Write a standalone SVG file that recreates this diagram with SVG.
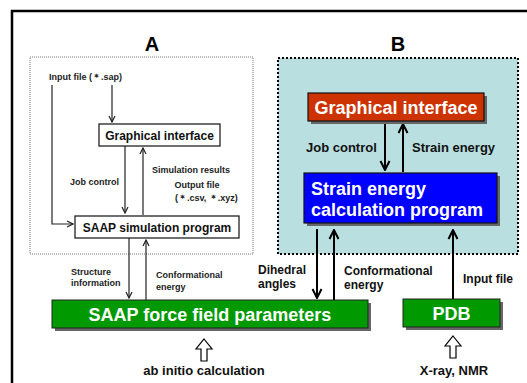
<svg xmlns="http://www.w3.org/2000/svg" width="527" height="383" viewBox="0 0 527 383">
<style>
  text { font-family: "Liberation Sans", Arial, sans-serif; font-weight: bold; }
  .title { font-size: 20px; fill: #000; text-anchor: middle; }
  .sm { font-size: 9px; fill: #222; }
  .lb { font-size: 12px; fill: #111; }
  .lb13 { font-size: 13px; fill: #111; }
  .boxA { fill: #fff; stroke: #222; stroke-width: 1.3; }
  .txA { font-size: 12px; fill: #111; text-anchor: middle; }
  .shadow { fill: #666; }
  .big { font-size: 18px; fill: #fff; }
  .arrA { stroke: #222; stroke-width: 1.2; fill: none; marker-end: url(#ha); }
  .arrB { stroke: #000; stroke-width: 2; fill: none; marker-end: url(#hb); }
  .hollow { fill: #fff; stroke: #000; stroke-width: 1.2; }
</style>
<defs>
  <marker id="ha" markerUnits="userSpaceOnUse" markerWidth="8" markerHeight="8" viewBox="0 0 8 8" refX="7" refY="4" orient="auto">
    <path d="M1,1 L7,4 L1,7" fill="none" stroke="#222" stroke-width="1.2"/>
  </marker>
  <marker id="hb" markerUnits="userSpaceOnUse" markerWidth="12" markerHeight="12" viewBox="0 0 12 12" refX="11" refY="6" orient="auto">
    <path d="M2,1.5 L11,6 L2,10.5" fill="none" stroke="#000" stroke-width="2"/>
  </marker>
</defs>

<rect x="12" y="11" width="530" height="400" fill="none" stroke="#000" stroke-width="2.5"/>

<text class="title" x="152" y="51">A</text>
<text class="title" x="398" y="51">B</text>

<g id="panelA">
  <rect x="30" y="57" width="223" height="197" fill="none" stroke="#777" stroke-width="1" stroke-dasharray="1,1"/>
</g>
<g id="panelB">
  <rect x="278" y="58" width="240" height="196" fill="#b9dfe0" stroke="#000" stroke-width="2" stroke-dasharray="2,2"/>
</g>

<g id="connectors">
  <line class="arrA" x1="112" y1="85" x2="112" y2="122"/>
  <polyline class="arrA" points="52,85 52,224 73,224"/>
  <line class="arrA" x1="125" y1="146" x2="125" y2="213"/>
  <line class="arrA" x1="143" y1="215" x2="143" y2="148"/>
  <line class="arrA" x1="129" y1="238" x2="129" y2="298"/>
  <line class="arrA" x1="146" y1="300" x2="146" y2="240"/>

  <line class="arrB" x1="385" y1="123" x2="385" y2="170"/>
  <line class="arrB" x1="403" y1="172" x2="403" y2="124"/>
  <line class="arrB" x1="317" y1="229" x2="317" y2="298"/>
  <line class="arrB" x1="334" y1="300" x2="334" y2="230"/>
  <line class="arrB" x1="453" y1="299" x2="453" y2="230"/>

  <polygon class="hollow" points="204,339 212,349 207,349 207,361 201,361 201,349 196,349"/>
  <polygon class="hollow" points="453,336 461,346 456,346 456,358 450,358 450,346 445,346"/>
</g>

<g id="labels">
  <text class="sm" x="49" y="80">Input file (＊.sap)</text>
  <text class="sm" x="119" y="185" text-anchor="end">Job control</text>
  <text class="sm" x="152" y="173">Simulation results</text>
  <text class="sm" x="197" y="188" text-anchor="middle">Output file</text>
  <text class="sm" x="175" y="201">(＊.csv, ＊.xyz)</text>
  <text class="sm" x="71" y="275">Structure</text>
  <text class="sm" x="71" y="286">information</text>
  <text class="sm" x="156" y="278">Conformational</text>
  <text class="sm" x="156" y="290">energy</text>

  <text class="lb13" x="306" y="152">Job control</text>
  <text class="lb13" x="412" y="152">Strain energy</text>
  <text class="lb" x="258" y="274">Dihedral</text>
  <text class="lb" x="258" y="288">angles</text>
  <text class="lb" x="344" y="275">Conformational</text>
  <text class="lb" x="344" y="289">energy</text>
  <text class="lb" x="463" y="283">Input file</text>

  <text class="lb13" x="204" y="375" text-anchor="middle">ab initio calculation</text>
  <text class="lb13" x="454" y="375" text-anchor="middle">X-ray, NMR</text>
</g>

<g id="guiA">
  <rect class="boxA" x="99" y="124" width="121" height="22"/>
  <text class="txA" x="159.5" y="139.5">Graphical interface</text>
</g>
<g id="saapSim">
  <rect class="boxA" x="75" y="216" width="164" height="22"/>
  <text class="txA" x="157" y="231.5">SAAP simulation program</text>
</g>
<g id="saapFF">
  <rect class="shadow" x="55" y="303" width="316" height="28"/>
  <rect x="52" y="300" width="316" height="28" fill="#009900" stroke="#222" stroke-width="1"/>
  <text class="big" x="210" y="321" text-anchor="middle">SAAP force field parameters</text>
</g>
<g id="pdb">
  <rect class="shadow" x="406" y="302" width="97" height="28"/>
  <rect x="403" y="299" width="97" height="28" fill="#009900" stroke="#222" stroke-width="1"/>
  <text class="big" x="451.5" y="320" text-anchor="middle">PDB</text>
</g>
<g id="guiB">
  <rect class="shadow" x="311" y="96" width="176" height="28"/>
  <rect x="308" y="93" width="176" height="28" fill="#cc3300" stroke="#111" stroke-width="1.2"/>
  <text class="big" x="396" y="113.5" text-anchor="middle">Graphical interface</text>
</g>
<g id="strainCalc">
  <rect class="shadow" x="307" y="176" width="193" height="50"/>
  <rect x="304" y="173" width="193" height="50" fill="#0000ff" stroke="#111" stroke-width="1.2"/>
  <text class="big" x="311" y="195">Strain energy</text>
  <text class="big" x="311" y="216">calculation program</text>
</g>
</svg>
